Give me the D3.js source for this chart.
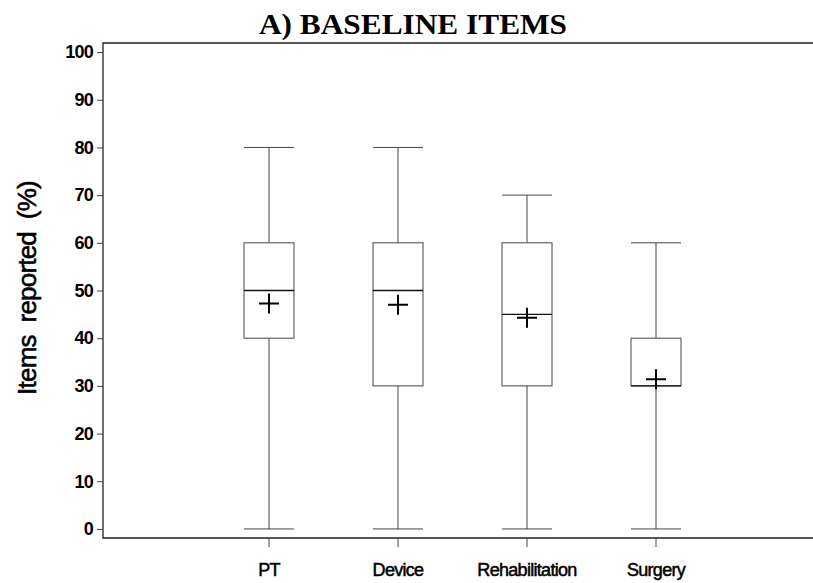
<!DOCTYPE html>
<html>
<head>
<meta charset="utf-8">
<script src="https://cdn.jsdelivr.net/npm/d3@7"></script>
<style>
  body { margin: 0; background: #fff; overflow: hidden; }
  svg { display: block; }
</style>
</head>
<body>
<div id="chart"></div>
<script>
// box plot summaries
const categories = ["PT", "Device", "Rehabilitation", "Surgery"];
const whiskerLow = [0, 0, 0, 0];
const q1 = [40, 30, 30, 30];
const median = [50, 50, 45, 30];
const q3 = [60, 60, 60, 40];
const whiskerHigh = [80, 80, 70, 60];
const means = [47.3, 47.0, 44.3, 31.4];
const yTicks = [0, 10, 20, 30, 40, 50, 60, 70, 80, 90, 100];

function draw() {
    const W = 813, H = 583;
    const left = 103, right = 813, top = 43, bottom = 538;

    const svg = d3.select("#chart")
        .append("svg")
        .attr("width", W)
        .attr("height", H);

    const y = d3.scaleLinear()
        .domain([-1.9, 101.9])
        .range([bottom, top]);

    // category index -> pixel
    const x = d3.scaleLinear()
        .domain([0, 3])
        .range([269, 656]);

    const boxW = 50;
    const lineCol = "#444";

    // title
    svg.append("text")
        .attr("x", 413)
        .attr("y", 34)
        .attr("text-anchor", "middle")
        .attr("font-family", "Liberation Serif, Times New Roman, serif")
        .attr("font-weight", "bold")
        .attr("font-size", 30)
        .attr("textLength", 308)
        .attr("lengthAdjust", "spacingAndGlyphs")
        .text("A) BASELINE ITEMS");

    // frame: top, left, bottom (right side runs off the page)
    svg.append("path")
        .attr("d", `M${right},${top}H${left}V${bottom}H${right}`)
        .attr("fill", "none")
        .attr("stroke", "#222")
        .attr("stroke-width", 1.3);

    // y axis
    const yAxis = svg.append("g")
        .attr("transform", `translate(${left},0)`)
        .call(d3.axisLeft(y).tickValues(yTicks).tickSize(6).tickPadding(4));
    yAxis.select(".domain").remove();
    yAxis.selectAll("line").attr("stroke", lineCol);
    yAxis.selectAll("text")
        .attr("font-family", "Liberation Sans, Arial, sans-serif")
        .attr("font-weight", "bold")
        .attr("font-size", 18)
        .attr("letter-spacing", -0.8)
        .attr("fill", "#000");

    // y title
    svg.append("text")
        .attr("transform", `translate(36,${288}) rotate(-90)`)
        .attr("text-anchor", "middle")
        .attr("font-family", "Liberation Sans, Arial, sans-serif")
        .attr("font-size", 26)
        .attr("letter-spacing", -0.8)
        .attr("stroke", "#000")
        .attr("stroke-width", 0.6)
        .style("white-space", "pre")
        .text("Items  reported  (%)");

    // x ticks and labels
    const xg = svg.append("g");
    categories.forEach((c, i) => {
        xg.append("line")
            .attr("x1", x(i)).attr("x2", x(i))
            .attr("y1", bottom).attr("y2", bottom + 9)
            .attr("stroke", lineCol);
        xg.append("text")
            .attr("x", x(i))
            .attr("y", 576)
            .attr("text-anchor", "middle")
            .attr("font-family", "Liberation Sans, Arial, sans-serif")
            .attr("font-size", 18)
            .attr("letter-spacing", -0.7)
            .attr("stroke", "#000")
            .attr("stroke-width", 0.5)
            .text(c);
    });

    // boxes
    const g = svg.append("g");
    categories.forEach((c, i) => {
        const cx = x(i);
        // whiskers
        g.append("line")
            .attr("x1", cx).attr("x2", cx)
            .attr("y1", y(whiskerHigh[i])).attr("y2", y(q3[i]))
            .attr("stroke", lineCol);
        g.append("line")
            .attr("x1", cx).attr("x2", cx)
            .attr("y1", y(q1[i])).attr("y2", y(whiskerLow[i]))
            .attr("stroke", lineCol);
        [whiskerHigh[i], whiskerLow[i]].forEach(v => {
            g.append("line")
                .attr("x1", cx - boxW / 2).attr("x2", cx + boxW / 2)
                .attr("y1", y(v)).attr("y2", y(v))
                .attr("stroke", lineCol);
        });
        // box
        g.append("rect")
            .attr("x", cx - boxW / 2)
            .attr("y", y(q3[i]))
            .attr("width", boxW)
            .attr("height", y(q1[i]) - y(q3[i]))
            .attr("fill", "none")
            .attr("stroke", lineCol);
        // median
        g.append("line")
            .attr("x1", cx - boxW / 2).attr("x2", cx + boxW / 2)
            .attr("y1", y(median[i])).attr("y2", y(median[i]))
            .attr("stroke", "#111")
            .attr("stroke-width", 1.3);
        // mean marker
        const my = y(means[i]);
        g.append("path")
            .attr("d", `M${cx - 10},${my}H${cx + 10}M${cx},${my - 10}V${my + 10}`)
            .attr("stroke", "#000")
            .attr("stroke-width", 2);
    });
}

draw();
</script>
</body>
</html>
